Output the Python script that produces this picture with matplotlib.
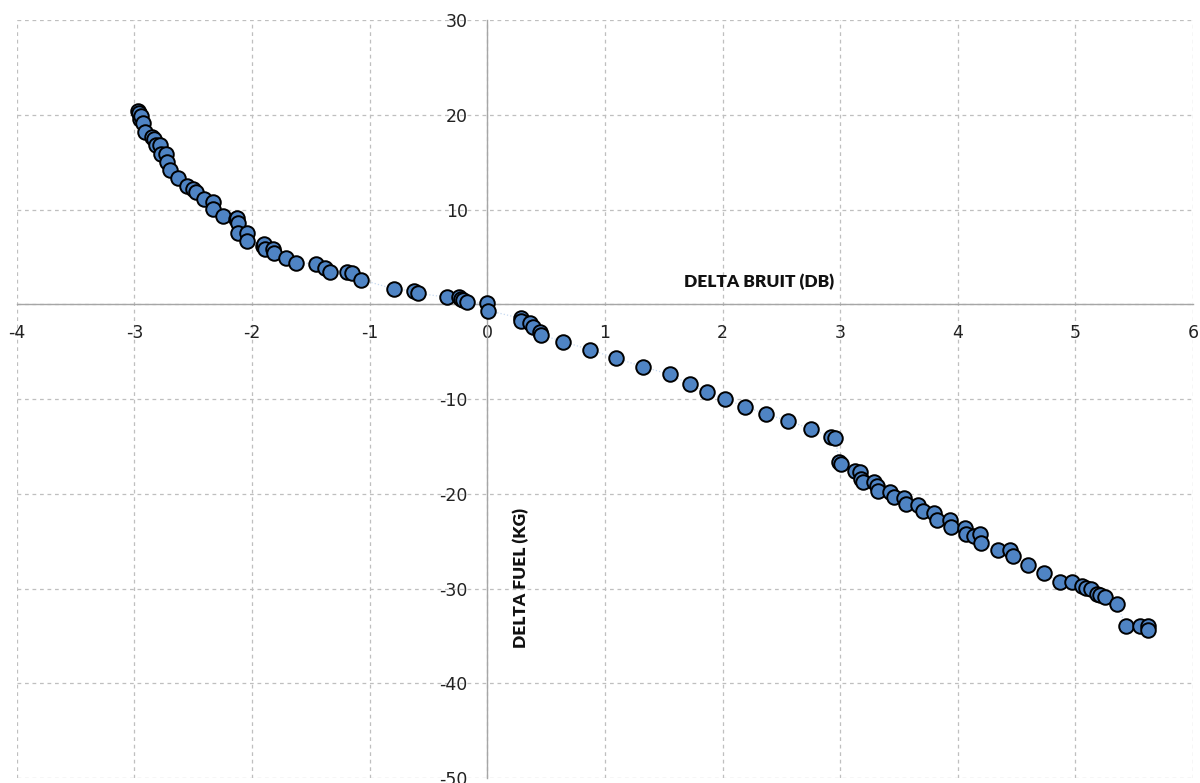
import matplotlib
matplotlib.use('Agg')
import matplotlib.pyplot as plt

# delta noise (dB) vs delta fuel (kg)
delta_bruit = [
    -2.97, -2.96, -2.95, -2.94, -2.93, -2.91, -2.85, -2.83, -2.82, -2.78,
    -2.77, -2.73, -2.72, -2.70, -2.63, -2.55, -2.50, -2.48, -2.41, -2.33,
    -2.33, -2.25, -2.14, -2.13, -2.12, -2.12, -2.04, -2.04, -1.91, -1.90,
    -1.89, -1.82, -1.81, -1.71, -1.63, -1.46, -1.38, -1.34, -1.19, -1.15,
    -1.07, -0.79, -0.62, -0.59, -0.34, -0.24, -0.22, -0.21, -0.17, 0.00,
    0.01, 0.285, 0.29, 0.36, 0.39, 0.45, 0.46, 0.645, 0.877, 1.097,
    1.32, 1.55, 1.72, 1.867, 2.02, 2.19, 2.37, 2.56, 2.755, 2.92,
    2.96, 2.99, 3.01, 3.13, 3.17, 3.18, 3.19, 3.29, 3.31, 3.32,
    3.42, 3.46, 3.54, 3.56, 3.66, 3.70, 3.80, 3.82, 3.93, 3.94,
    4.06, 4.07, 4.14, 4.19, 4.20, 4.34, 4.44, 4.47, 4.60, 4.73,
    4.87, 4.97, 5.06, 5.09, 5.13, 5.18, 5.21, 5.25, 5.35, 5.43,
    5.55, 5.615, 5.62,
]
delta_fuel = [
    20.4, 20.2, 19.6, 19.9, 19.1, 18.2, 17.7, 17.4, 16.8, 16.8,
    15.9, 15.9, 15.0, 14.2, 13.3, 12.5, 12.2, 11.9, 11.1, 10.8,
    10.1, 9.3, 9.0, 9.1, 8.6, 7.5, 7.5, 6.7, 6.2, 6.4,
    5.8, 5.8, 5.4, 4.85, 4.4, 4.25, 3.8, 3.45, 3.45, 3.3,
    2.6, 1.6, 1.4, 1.16, 0.74, 0.74, 0.6, 0.45, 0.2, 0.1,
    -0.67, -1.48, -1.73, -2.0, -2.43, -2.9, -3.24, -3.94, -4.82, -5.7,
    -6.58, -7.4, -8.44, -9.29, -10.0, -10.8, -11.6, -12.3, -13.2, -14.0,
    -14.1, -16.7, -16.9, -17.6, -17.7, -18.4, -18.8, -18.8, -19.2, -19.7,
    -19.8, -20.3, -20.5, -21.1, -21.2, -21.8, -22.0, -22.8, -22.8, -23.5,
    -23.6, -24.3, -24.5, -24.3, -25.2, -25.9, -25.9, -26.6, -27.5, -28.4,
    -29.3, -29.3, -29.7, -29.9, -30.0, -30.6, -30.7, -30.9, -31.6, -33.95,
    -34.0, -33.95, -34.4,
]

x_ticks = [-4, -3, -2, -1, 0, 1, 2, 3, 4, 5, 6]
y_ticks = [-50, -40, -30, -20, -10, 0, 10, 20, 30]

plt.rcParams['axes.unicode_minus'] = False
plt.rcParams['font.family'] = ['DejaVu Sans']

fig = plt.figure(figsize=(12, 7.83), dpi=100)
ax = fig.add_axes([0.014, 0.0064, 0.9802, 0.968])

ax.plot(delta_bruit, delta_fuel, color='#c6d9f0', lw=0.9, ls=':', zorder=2)
ax.scatter(delta_bruit, delta_fuel, s=110, c='#4f84c4', edgecolors='black',
           linewidths=1.4, zorder=3)

ax.set_xlim(-4, 6)
ax.set_ylim(-50, 30)
ax.set_xticks(x_ticks)
ax.set_yticks(y_ticks)
ax.set_xticklabels([str(t) for t in x_ticks])
ax.set_yticklabels(['' if t == 0 else str(t) for t in y_ticks])
ax.tick_params(axis='both', length=0, labelsize=12.5, colors='#222222')
ax.tick_params(axis='x', pad=14)
ax.tick_params(axis='y', pad=14)

ax.spines['left'].set_position(('data', 0))
ax.spines['bottom'].set_position(('data', 0))
ax.spines['top'].set_visible(False)
ax.spines['right'].set_visible(False)
for side in ('left', 'bottom'):
    ax.spines[side].set_color('#a6a6a6')
    ax.spines[side].set_linewidth(1.0)

ax.grid(True, color='#bfbfbf', ls=(0, (3, 3)), lw=0.9)
ax.set_axisbelow(True)

ax.text(2.31, 2.4, 'DELTA BRUIT (DB)', ha='center', va='center',
        fontsize=12.5, fontweight='heavy', family='Lato', color='#111111')
ax.text(0.29, -28.9, 'DELTA FUEL (KG)', ha='center', va='center', rotation=90,
        fontsize=12.5, fontweight='heavy', family='Lato', color='#111111')

fig.savefig('out.png', dpi=100)
